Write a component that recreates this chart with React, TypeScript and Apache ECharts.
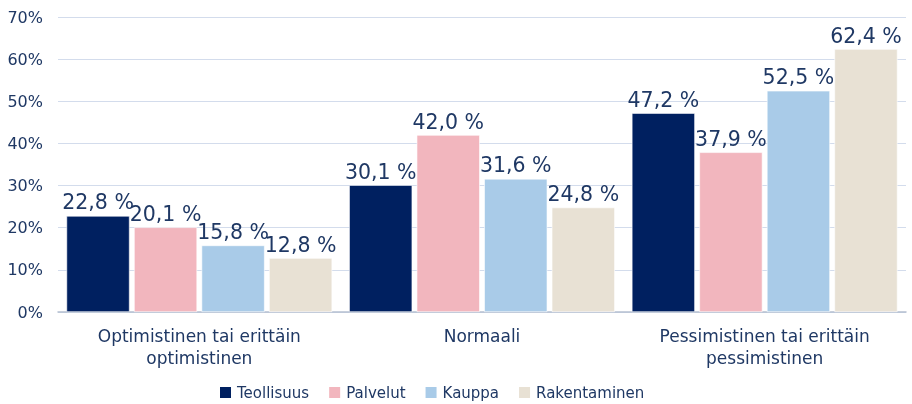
import React, { useEffect, useRef } from "react";
import * as echarts from "echarts";

const categories = ["Optimistinen tai erittäin\noptimistinen", "Normaali", "Pessimistinen tai erittäin\npessimistinen"];
const seriesNames = ["Teollisuus", "Palvelut", "Kauppa", "Rakentaminen"];
const teollisuus = [22.8, 30.1, 47.2];
const palvelut = [20.1, 42.0, 37.9];
const kauppa = [15.8, 31.6, 52.5];
const rakentaminen = [12.8, 24.8, 62.4];
const colors = ["#002060", "#f2b6be", "#a9cbe8", "#e8e1d4"];
const textColor = "#1f3864";
const font = "DejaVu Sans";

export default function App() {
  const ref = useRef<HTMLDivElement>(null);
  useEffect(() => {
    document.body.style.margin = "0";
    document.body.style.overflow = "hidden";
    const chart = echarts.init(ref.current!, null, { renderer: "svg" });
    const data = [teollisuus, palvelut, kauppa, rakentaminen];
    chart.setOption({
      animation: false,
      textStyle: { fontFamily: font, color: textColor },
      grid: { left: 58, right: 6, top: 17, bottom: 92 },
      legend: {
        bottom: 4,
        left: 218,
        padding: 0,
        itemWidth: 13,
        itemHeight: 13,
        itemGap: 18,
        icon: "rect",
        textStyle: { fontFamily: font, fontSize: 15, color: textColor },
        data: seriesNames,
      },
      xAxis: {
        type: "category",
        data: categories,
        axisTick: { show: false },
        axisLine: { lineStyle: { color: "#b4bfd0", width: 1.5 } },
        axisLabel: { fontFamily: font, fontSize: 17, color: textColor, margin: 13, lineHeight: 22 },
      },
      yAxis: {
        type: "value",
        min: 0,
        max: 70,
        interval: 10,
        axisLabel: { formatter: "{value}%", fontFamily: font, fontSize: 16, color: textColor, margin: 15 },
        splitLine: { lineStyle: { color: "#d3dcec", width: 1.2 } },
        axisLine: { show: false },
        axisTick: { show: false },
      },
      series: seriesNames.map((name, i) => ({
        name,
        type: "bar",
        data: data[i],
        barGap: "7%",
        barCategoryGap: "6%",
        itemStyle: { color: colors[i], borderColor: "#ffffff", borderWidth: 0.6 },
        label: {
          show: true,
          position: "top",
          distance: 3,
          fontFamily: font,
          fontSize: 20.5,
          color: textColor,
          formatter: (p: any) => p.value.toFixed(1).replace(".", ",") + " %",
        },
      })),
    });
    return () => chart.dispose();
  }, []);
  return <div ref={ref} style={{ position: "fixed", left: 0, top: 0, width: 912, height: 404 }} />;
}
